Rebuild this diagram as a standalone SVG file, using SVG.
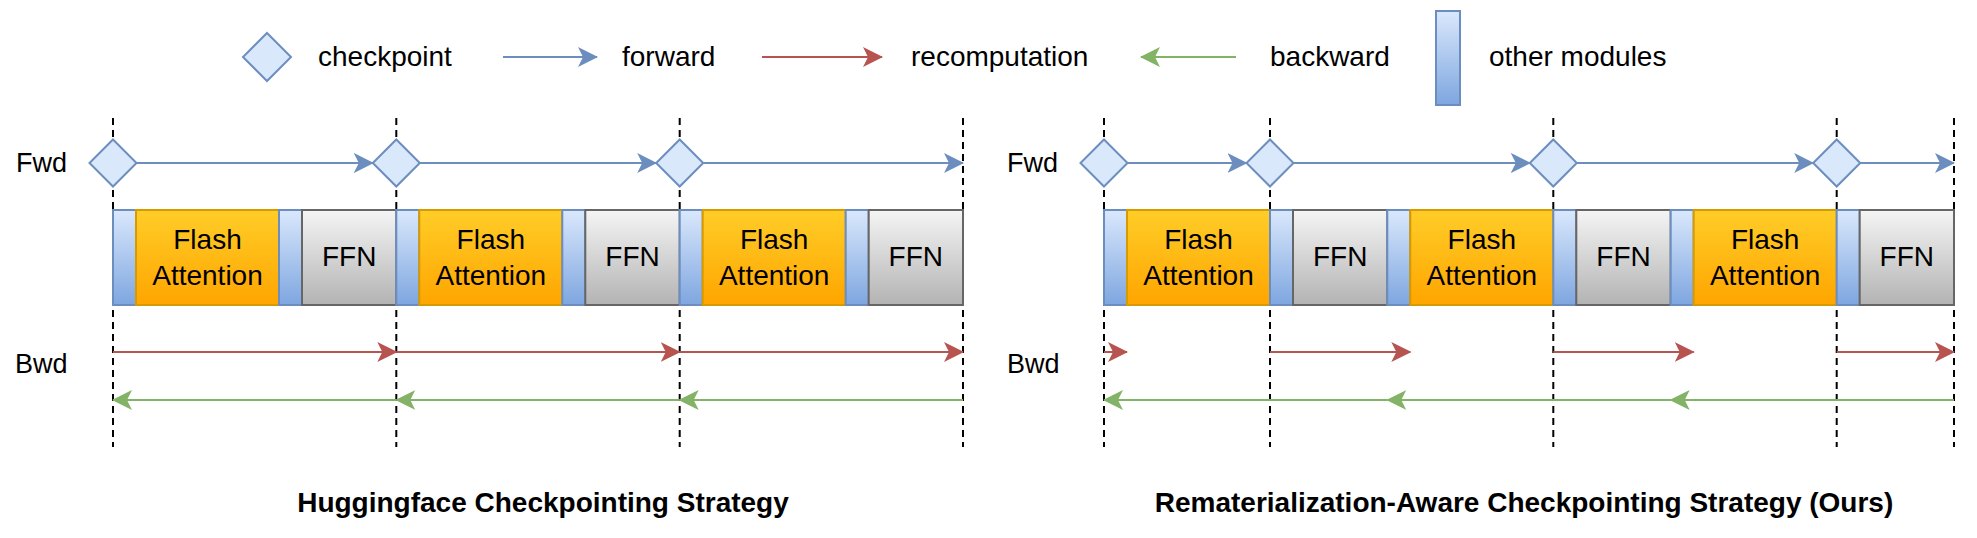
<svg xmlns="http://www.w3.org/2000/svg" width="1977" height="538" viewBox="0 0 1977 538">
<defs>
<linearGradient id="gBlue" x1="0" y1="0" x2="0" y2="1"><stop offset="0" stop-color="#dae8fc"/><stop offset="1" stop-color="#7ea6e0"/></linearGradient>
<linearGradient id="gOrange" x1="0" y1="0" x2="0" y2="1"><stop offset="0" stop-color="#ffcd28"/><stop offset="1" stop-color="#ffa500"/></linearGradient>
<linearGradient id="gGray" x1="0" y1="0" x2="0" y2="1"><stop offset="0" stop-color="#f5f5f5"/><stop offset="1" stop-color="#b3b3b3"/></linearGradient>
<marker id="ahBlue" markerUnits="userSpaceOnUse" markerWidth="20" markerHeight="20" viewBox="0 0 20 20" refX="19" refY="10" orient="auto"><path d="M0,0 L20,10 L0,20 L5,10 Z" fill="#6c8ebf"/></marker>
<marker id="ahRed" markerUnits="userSpaceOnUse" markerWidth="20" markerHeight="20" viewBox="0 0 20 20" refX="19" refY="10" orient="auto"><path d="M0,0 L20,10 L0,20 L5,10 Z" fill="#b85450"/></marker>
<marker id="ahGreen" markerUnits="userSpaceOnUse" markerWidth="20" markerHeight="20" viewBox="0 0 20 20" refX="19" refY="10" orient="auto"><path d="M0,0 L20,10 L0,20 L5,10 Z" fill="#82b366"/></marker>
</defs>
<style>
text{font-family:"Liberation Sans",Arial,sans-serif;fill:#000}
.lg{font-size:28px}
.lbl{font-size:27px}
.bt{font-size:28px;text-anchor:middle}
.title{font-size:28px;font-weight:bold;text-anchor:middle}
.dash{stroke:#000;stroke-width:2;stroke-dasharray:7 5;fill:none}
.om{fill:url(#gBlue);stroke:#6c8ebf;stroke-width:2}
.fa{fill:url(#gOrange);stroke:#d79b00;stroke-width:2}
.ffn{fill:url(#gGray);stroke:#666666;stroke-width:2}
.cp{fill:#dae8fc;stroke:#6c8ebf;stroke-width:2}
.fwd{stroke:#6c8ebf;stroke-width:2;fill:none;marker-end:url(#ahBlue)}
.rec{stroke:#b85450;stroke-width:2;fill:none;marker-end:url(#ahRed)}
.bwd{stroke:#82b366;stroke-width:2;fill:none;marker-end:url(#ahGreen)}
</style>
<rect width="1977" height="538" fill="#ffffff"/>

<g id="legend">
<g id="legend-checkpoint"><path class="cp" d="M267,33 L291,57 L267,81 L243,57 Z"/><text class="lg" x="318" y="66">checkpoint</text></g>
<g id="legend-forward"><line class="fwd" x1="503" y1="57" x2="597" y2="57"/><text class="lg" x="622" y="66">forward</text></g>
<g id="legend-recomputation"><line class="rec" x1="762" y1="57" x2="882" y2="57"/><text class="lg" x="911" y="66">recomputation</text></g>
<g id="legend-backward"><line class="bwd" x1="1236" y1="57" x2="1141" y2="57"/><text class="lg" x="1270" y="66">backward</text></g>
<g id="legend-other"><rect class="om" x="1436" y="11" width="24" height="94"/><text class="lg" x="1489" y="66">other modules</text></g>
</g>

<g id="guides">
<line class="dash" x1="113" y1="118" x2="113" y2="447"/>
<line class="dash" x1="396.3" y1="118" x2="396.3" y2="447"/>
<line class="dash" x1="679.7" y1="118" x2="679.7" y2="447"/>
<line class="dash" x1="963" y1="118" x2="963" y2="447"/>
<line class="dash" x1="1104" y1="118" x2="1104" y2="447"/>
<line class="dash" x1="1270" y1="118" x2="1270" y2="447"/>
<line class="dash" x1="1553.3" y1="118" x2="1553.3" y2="447"/>
<line class="dash" x1="1836.7" y1="118" x2="1836.7" y2="447"/>
<line class="dash" x1="1954" y1="118" x2="1954" y2="447"/>
</g>

<g id="labels">
<text class="lbl" x="16" y="172">Fwd</text>
<text class="lbl" x="15" y="373">Bwd</text>
<text class="lbl" x="1007" y="172">Fwd</text>
<text class="lbl" x="1007" y="373">Bwd</text>
</g>

<g id="left-layers">
<g id="L-om-1"><rect class="om" x="113" y="210" width="23" height="95"/></g>
<g id="L-fa-1"><rect class="fa" x="136" y="210" width="143" height="95"/><text class="bt" x="207.5" y="249">Flash</text><text class="bt" x="207.5" y="285">Attention</text></g>
<g id="L-om-2"><rect class="om" x="279" y="210" width="23" height="95"/></g>
<g id="L-ffn-1"><rect class="ffn" x="302" y="210" width="94.3" height="95"/><text class="bt" x="349.2" y="266">FFN</text></g>
<g id="L-om-3"><rect class="om" x="396.3" y="210" width="23" height="95"/></g>
<g id="L-fa-2"><rect class="fa" x="419.3" y="210" width="143" height="95"/><text class="bt" x="490.8" y="249">Flash</text><text class="bt" x="490.8" y="285">Attention</text></g>
<g id="L-om-4"><rect class="om" x="562.3" y="210" width="23" height="95"/></g>
<g id="L-ffn-2"><rect class="ffn" x="585.3" y="210" width="94.4" height="95"/><text class="bt" x="632.5" y="266">FFN</text></g>
<g id="L-om-5"><rect class="om" x="679.7" y="210" width="23" height="95"/></g>
<g id="L-fa-3"><rect class="fa" x="702.7" y="210" width="143" height="95"/><text class="bt" x="774.2" y="249">Flash</text><text class="bt" x="774.2" y="285">Attention</text></g>
<g id="L-om-6"><rect class="om" x="845.7" y="210" width="23" height="95"/></g>
<g id="L-ffn-3"><rect class="ffn" x="868.7" y="210" width="94.3" height="95"/><text class="bt" x="915.8" y="266">FFN</text></g>
</g>

<g id="right-layers">
<g id="R-om-1"><rect class="om" x="1104" y="210" width="23" height="95"/></g>
<g id="R-fa-1"><rect class="fa" x="1127" y="210" width="143" height="95"/><text class="bt" x="1198.5" y="249">Flash</text><text class="bt" x="1198.5" y="285">Attention</text></g>
<g id="R-om-2"><rect class="om" x="1270" y="210" width="23" height="95"/></g>
<g id="R-ffn-1"><rect class="ffn" x="1293" y="210" width="94.3" height="95"/><text class="bt" x="1340.2" y="266">FFN</text></g>
<g id="R-om-3"><rect class="om" x="1387.3" y="210" width="23" height="95"/></g>
<g id="R-fa-2"><rect class="fa" x="1410.3" y="210" width="143" height="95"/><text class="bt" x="1481.8" y="249">Flash</text><text class="bt" x="1481.8" y="285">Attention</text></g>
<g id="R-om-4"><rect class="om" x="1553.3" y="210" width="23" height="95"/></g>
<g id="R-ffn-2"><rect class="ffn" x="1576.3" y="210" width="94.4" height="95"/><text class="bt" x="1623.5" y="266">FFN</text></g>
<g id="R-om-5"><rect class="om" x="1670.7" y="210" width="23" height="95"/></g>
<g id="R-fa-3"><rect class="fa" x="1693.7" y="210" width="143" height="95"/><text class="bt" x="1765.2" y="249">Flash</text><text class="bt" x="1765.2" y="285">Attention</text></g>
<g id="R-om-6"><rect class="om" x="1836.7" y="210" width="23" height="95"/></g>
<g id="R-ffn-3"><rect class="ffn" x="1859.7" y="210" width="94.3" height="95"/><text class="bt" x="1906.8" y="266">FFN</text></g>
</g>

<g id="connectors">
<line class="fwd" x1="137" y1="163" x2="372.8" y2="163"/>
<line class="fwd" x1="419.8" y1="163" x2="656.2" y2="163"/>
<line class="fwd" x1="703.2" y1="163" x2="963" y2="163"/>
<line class="fwd" x1="1128" y1="163" x2="1246.5" y2="163"/>
<line class="fwd" x1="1293.5" y1="163" x2="1529.8" y2="163"/>
<line class="fwd" x1="1576.8" y1="163" x2="1813.2" y2="163"/>
<line class="fwd" x1="1860.2" y1="163" x2="1954" y2="163"/>
<line class="rec" x1="113" y1="352" x2="396.3" y2="352"/>
<line class="rec" x1="396.3" y1="352" x2="679.7" y2="352"/>
<line class="rec" x1="679.7" y1="352" x2="963" y2="352"/>
<line class="rec" x1="1104" y1="352" x2="1127" y2="352"/>
<line class="rec" x1="1270" y1="352" x2="1410.3" y2="352"/>
<line class="rec" x1="1553.3" y1="352" x2="1693.7" y2="352"/>
<line class="rec" x1="1836.7" y1="352" x2="1954" y2="352"/>
<line class="bwd" x1="963" y1="400" x2="679.7" y2="400"/>
<line class="bwd" x1="679.7" y1="400" x2="396.3" y2="400"/>
<line class="bwd" x1="396.3" y1="400" x2="113" y2="400"/>
<line class="bwd" x1="1954" y1="400" x2="1670.7" y2="400"/>
<line class="bwd" x1="1670.7" y1="400" x2="1387.3" y2="400"/>
<line class="bwd" x1="1387.3" y1="400" x2="1104" y2="400"/>
</g>

<g id="checkpoints">
<g id="cp-L1"><path class="cp" d="M113,139.5 L136.5,163 L113,186.5 L89.5,163 Z"/></g>
<g id="cp-L2"><path class="cp" d="M396.3,139.5 L419.8,163 L396.3,186.5 L372.8,163 Z"/></g>
<g id="cp-L3"><path class="cp" d="M679.7,139.5 L703.2,163 L679.7,186.5 L656.2,163 Z"/></g>
<g id="cp-R1"><path class="cp" d="M1104,139.5 L1127.5,163 L1104,186.5 L1080.5,163 Z"/></g>
<g id="cp-R2"><path class="cp" d="M1270,139.5 L1293.5,163 L1270,186.5 L1246.5,163 Z"/></g>
<g id="cp-R3"><path class="cp" d="M1553.3,139.5 L1576.8,163 L1553.3,186.5 L1529.8,163 Z"/></g>
<g id="cp-R4"><path class="cp" d="M1836.7,139.5 L1860.2,163 L1836.7,186.5 L1813.2,163 Z"/></g>
</g>

<g id="titles">
<text class="title" x="543" y="512">Huggingface Checkpointing Strategy</text>
<text class="title" x="1524" y="512">Rematerialization-Aware Checkpointing Strategy (Ours)</text>
</g>
</svg>
